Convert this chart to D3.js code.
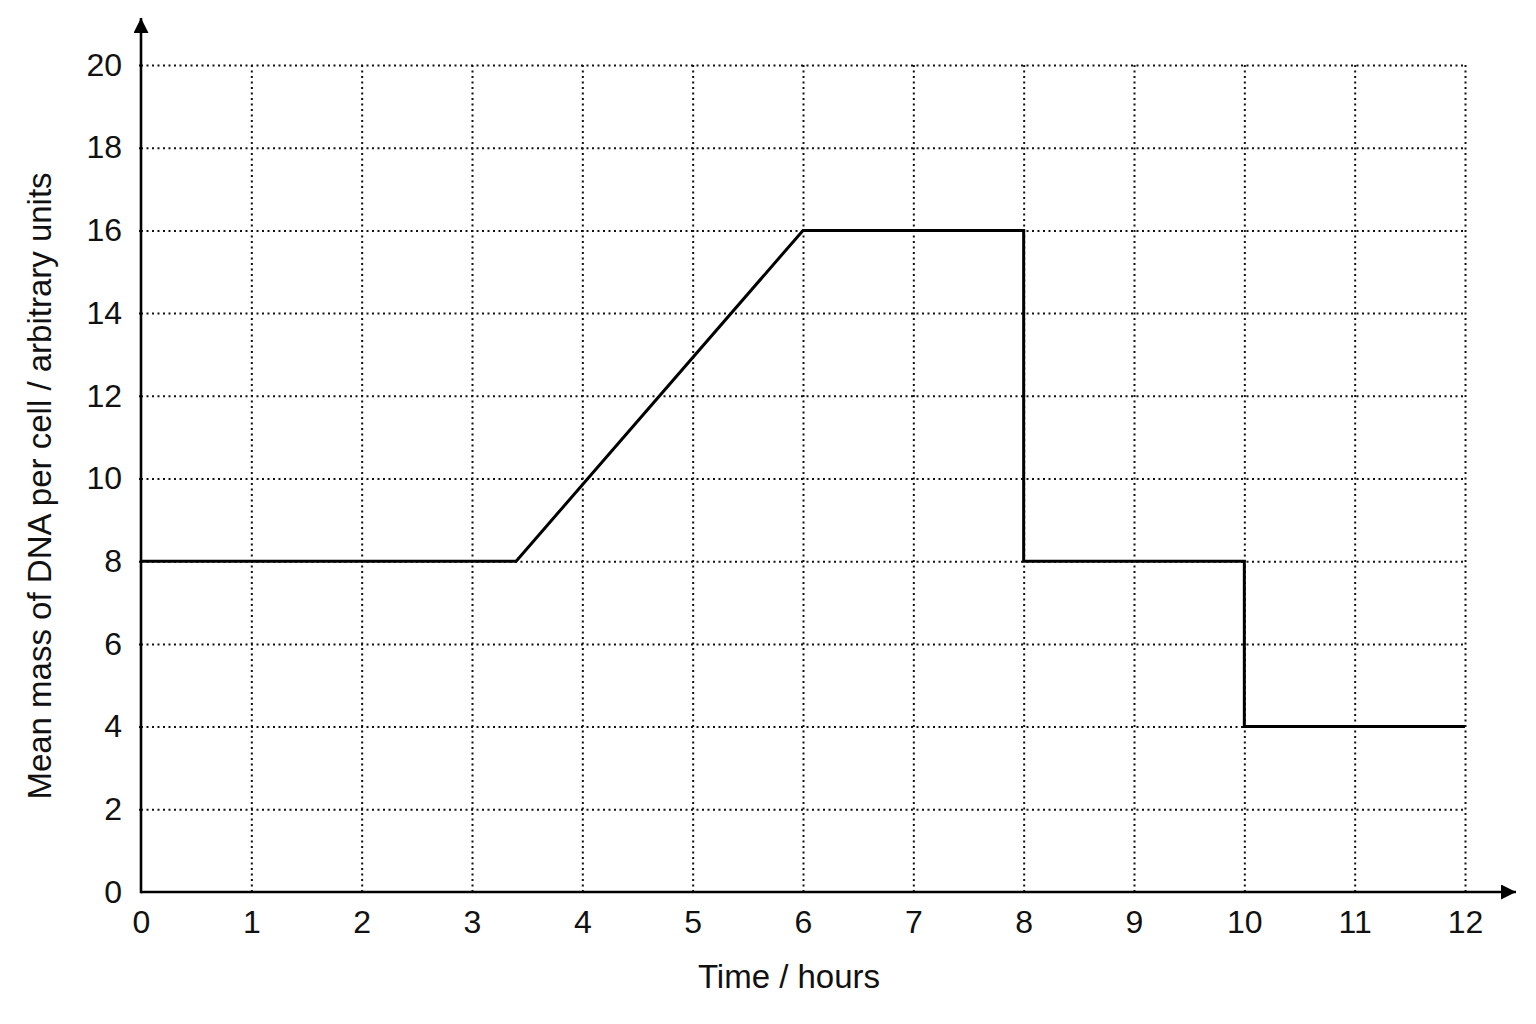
<!DOCTYPE html>
<html lang="en">
  <head>
    <meta charset="utf-8">
    <title>Mean mass of DNA per cell</title>
    <script src="https://d3js.org/d3.v7.js"></script>
    <style>
      body {
        margin: 0;
        background: #fff;
        font-family: "Liberation Sans", Arial, sans-serif;
      }
      .tick text {
        font-size: 32px;
        fill: #111;
      }
      .grid line {
        stroke: #111;
        stroke-width: 2px;
        stroke-dasharray: 2,3.5;
      }
      .grid .domain {
        display: none;
      }
      .label {
        font-size: 33px;
        fill: #111;
      }
    </style>
  </head>
  <body>
    <svg id="chart" width="1536" height="1024"></svg>

    <script>
    // data ********************************
    let timeHours = [0, 3.4, 6, 8, 8, 10, 10, 12]
    let dnaMass   = [8, 8, 16, 16, 8, 8, 4, 4]

    let xTicks = [0, 1, 2, 3, 4, 5, 6, 7, 8, 9, 10, 11, 12]
    let yTicks = [0, 2, 4, 6, 8, 10, 12, 14, 16, 18, 20]

    let xLabel = "Time / hours"
    let yLabel = "Mean mass of DNA per cell / arbitrary units"

    // scales
    let x = d3.scaleLinear().domain([0, 12]).range([141, 1465])
    let y = d3.scaleLinear().domain([0, 20]).range([892, 65])

    let svg = d3.select("#chart")

    // grid lines (dotted)
    svg.append("g")
      .attr("class", "grid")
      .attr("transform", "translate(0," + y(0) + ")")
      .call(d3.axisBottom(x).tickValues(xTicks.slice(1)).tickSize(-(y(0) - y(20))).tickFormat(""))

    svg.append("g")
      .attr("class", "grid")
      .attr("transform", "translate(" + x(0) + ",0)")
      .call(d3.axisLeft(y).tickValues(yTicks.slice(1)).tickSize(-(x(12) - x(0))).tickFormat(""))

    // small tick stubs left of the y axis
    svg.append("g")
      .attr("class", "grid")
      .attr("transform", "translate(" + x(0) + ",0)")
      .call(d3.axisLeft(y).tickValues(yTicks.slice(1)).tickSize(5).tickFormat(""))
      .selectAll("line").style("stroke-dasharray", null)

    // tick labels (no axis line, drawn separately)
    let xAxis = svg.append("g")
      .attr("transform", "translate(0," + y(0) + ")")
      .call(d3.axisBottom(x).tickValues(xTicks).tickSize(0).tickPadding(18))
    xAxis.select(".domain").remove()
    xAxis.selectAll("text").attr("font-family", "Liberation Sans, Arial, sans-serif")

    let yAxis = svg.append("g")
      .attr("transform", "translate(" + x(0) + ",0)")
      .call(d3.axisLeft(y).tickValues(yTicks).tickSize(0).tickPadding(19))
    yAxis.select(".domain").remove()
    yAxis.selectAll("text").attr("font-family", "Liberation Sans, Arial, sans-serif")

    // axes with arrows
    svg.append("defs").append("marker")
      .attr("id", "arrow")
      .attr("viewBox", "0 0 10 10")
      .attr("refX", 10)
      .attr("refY", 5)
      .attr("markerUnits", "userSpaceOnUse")
      .attr("markerWidth", 18)
      .attr("markerHeight", 15)
      .attr("orient", "auto")
      .append("path")
        .attr("d", "M0,0 L10,5 L0,10 Z")
        .attr("fill", "#000")

    svg.append("line")
      .attr("x1", x(0)).attr("y1", y(0))
      .attr("x2", 1516).attr("y2", y(0))
      .attr("stroke", "#000").attr("stroke-width", 2.6)
      .attr("marker-end", "url(#arrow)")

    svg.append("line")
      .attr("x1", x(0)).attr("y1", y(0) + 1.3)
      .attr("x2", x(0)).attr("y2", 18)
      .attr("stroke", "#000").attr("stroke-width", 2.6)
      .attr("marker-end", "url(#arrow)")

    // data line
    let line = d3.line()
      .x((d, i) => x(timeHours[i]))
      .y(d => y(d))

    svg.append("path")
      .datum(dnaMass)
      .attr("d", line)
      .attr("fill", "none")
      .attr("stroke", "#000")
      .attr("stroke-width", 3)
      .attr("stroke-linejoin", "miter")

    // axis labels
    svg.append("text")
      .attr("class", "label")
      .attr("x", 789)
      .attr("y", 988)
      .attr("text-anchor", "middle")
      .text(xLabel)

    svg.append("text")
      .attr("class", "label")
      .attr("transform", "translate(51," + 486 + ") rotate(-90)")
      .attr("text-anchor", "middle")
      .text(yLabel)
    </script>
  </body>
</html>
